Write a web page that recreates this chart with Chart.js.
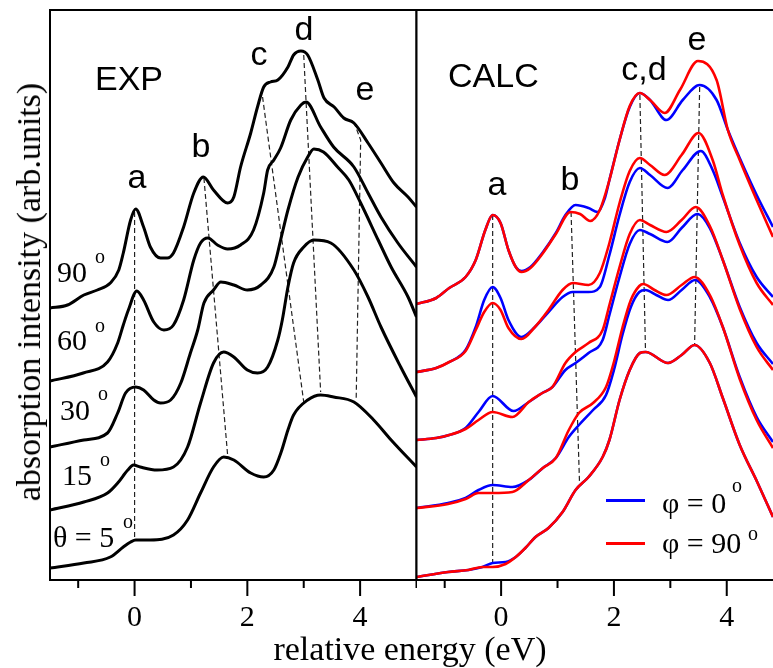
<!DOCTYPE html>
<html>
<head>
<meta charset="utf-8">
<script src="https://cdn.jsdelivr.net/npm/chart.js@4.4.0/dist/chart.umd.min.js"></script>
<style>
  body { margin: 0; background: #fff; }
  #wrap { position: relative; width: 773px; height: 668px; overflow: hidden; }
  canvas { position: absolute; top: 0; }
  .t { position: absolute; white-space: nowrap; line-height: 1; color: #000; }
  .sans { font-family: "Liberation Sans", Arial, sans-serif; font-size: 34px; }
  .serif { font-family: "Liberation Serif", "Times New Roman", serif; font-size: 30px; }
  .sup { font-family: "Liberation Serif", "Times New Roman", serif; font-size: 20px; }
  .title { font-family: "Liberation Serif", "Times New Roman", serif; font-size: 34px; }
  .ctr { transform: translateX(-50%); }
  .key { position: absolute; height: 3px; width: 39px; }
</style>
</head>
<body>
<div id="wrap">
  <canvas id="expChart" width="417" height="668" style="left:0"></canvas>
  <canvas id="calcChart" width="363" height="668" style="left:410px"></canvas>

  <div class="t title" style="left:29px; top:292px; transform:translate(-50%,-50%) rotate(-90deg);">absorption intensity (arb.units)</div>
  <div class="t title ctr" style="left:410px; top:632px;">relative energy (eV)</div>

  <div class="t sans" style="left:95px; top:61px;">EXP</div>
  <div class="t sans ctr" style="left:137px; top:159px;">a</div>
  <div class="t sans ctr" style="left:201px; top:128px;">b</div>
  <div class="t sans ctr" style="left:259px; top:36px;">c</div>
  <div class="t sans ctr" style="left:304px; top:11px;">d</div>
  <div class="t sans ctr" style="left:365px; top:71px;">e</div>

  <div class="t serif" style="left:57px; top:257px;">90</div><div class="t sup" style="left:95px; top:246px;">o</div>
  <div class="t serif" style="left:57px; top:325px;">60</div><div class="t sup" style="left:95px; top:315px;">o</div>
  <div class="t serif" style="left:60px; top:395px;">30</div><div class="t sup" style="left:98px; top:383px;">o</div>
  <div class="t serif" style="left:62px; top:460px;">15</div><div class="t sup" style="left:100px; top:449px;">o</div>
  <div class="t serif" style="left:53px; top:522px;">θ = 5</div><div class="t sup" style="left:123px; top:511px;">o</div>

  <div class="t sans" style="left:448px; top:58px;">CALC</div>
  <div class="t sans ctr" style="left:497px; top:166px;">a</div>
  <div class="t sans ctr" style="left:570px; top:161px;">b</div>
  <div class="t sans ctr" style="left:644px; top:51px;">c,d</div>
  <div class="t sans ctr" style="left:697px; top:21px;">e</div>

  <div class="key" style="left:606px; top:499px; background:#0000ff;"></div>
  <div class="t serif" style="left:662px; top:488px;">φ = 0</div><div class="t sup" style="left:732px; top:475px;">o</div>
  <div class="key" style="left:606px; top:542px; background:#ff0000;"></div>
  <div class="t serif" style="left:662px; top:528px;">φ = 90</div><div class="t sup" style="left:748px; top:523px;">o</div>
</div>

<script>
// x ticks (eV)
const TICKS_EXP = [-1, 0, 1, 2, 3, 4, 5];
const TICKS_CALC = [-1, 0, 1, 2, 3, 4];
const TICK_LABELS = [0, 2, 4];

// measured spectra, [energy eV, intensity arb.units incl. vertical offset]
const EXP_90 = [[-1.5,5.44],[-1.19,5.50],[-0.9,5.70],[-0.66,5.80],[-0.43,5.94],[-0.28,6.20],[-0.2,6.54],[-0.07,7.20],[0.02,7.42],[0.16,7.06],[0.28,6.66],[0.46,6.44],[0.58,6.44],[0.69,6.54],[0.87,7.06],[1.05,7.74],[1.22,8.06],[1.4,7.80],[1.65,7.54],[1.76,7.66],[1.88,8.26],[2.06,8.94],[2.18,9.46],[2.29,9.86],[2.41,9.96],[2.54,10.00],[2.72,10.26],[2.82,10.50],[2.95,10.58],[3.07,10.50],[3.25,10.00],[3.36,9.64],[3.54,9.46],[3.71,9.24],[3.89,9.14],[4.14,8.74],[4.37,8.34],[4.6,7.94],[4.85,7.66],[5.0,7.46]];
const EXP_60 = [[-1.5,3.98],[-0.91,4.14],[-0.48,4.36],[-0.3,4.74],[-0.2,5.10],[-0.11,5.40],[0.04,5.78],[0.16,5.60],[0.34,5.16],[0.52,5.00],[0.69,5.10],[0.87,5.60],[1.05,6.40],[1.17,6.74],[1.30,6.84],[1.47,6.70],[1.65,6.62],[1.88,6.70],[2.11,7.00],[2.29,7.74],[2.36,8.20],[2.47,8.40],[2.59,8.64],[2.77,9.20],[2.95,9.50],[3.04,9.56],[3.30,9.06],[3.53,8.66],[3.89,8.26],[4.14,7.74],[4.37,7.26],[4.67,6.74],[5.0,6.26]];
const EXP_30 = [[-1.5,2.66],[-0.9,2.80],[-0.48,2.94],[-0.3,3.34],[-0.16,3.74],[0.02,3.86],[0.16,3.80],[0.34,3.60],[0.46,3.54],[0.64,3.60],[0.82,3.94],[0.99,4.54],[1.12,5.00],[1.23,5.54],[1.4,5.80],[1.53,5.96],[1.76,5.90],[2.0,5.80],[2.24,5.90],[2.47,6.26],[2.59,6.80],[2.72,7.40],[2.9,8.06],[3.07,8.46],[3.18,8.62],[3.35,8.56],[3.6,8.26],[3.8,8.00],[4.01,7.54],[4.32,6.80],[4.55,6.26],[4.85,5.66],[5.0,5.26]];
const EXP_15 = [[-1.5,1.40],[-0.9,1.56],[-0.48,1.74],[-0.3,1.94],[-0.12,2.20],[-0.02,2.30],[0.1,2.26],[0.4,2.20],[0.69,2.26],[0.94,2.66],[1.17,3.54],[1.4,4.34],[1.58,4.56],[1.76,4.46],[2.0,4.20],[2.18,4.14],[2.36,4.26],[2.54,4.80],[2.62,5.20],[2.72,5.86],[2.82,6.34],[3.0,6.66],[3.18,6.80],[3.48,6.74],[3.89,6.20],[4.14,5.66],[4.37,5.06],[4.72,4.26],[5.0,3.66]];
const EXP_5 = [[-1.5,0.24],[-0.9,0.34],[-0.43,0.46],[-0.2,0.66],[-0.07,0.76],[0.02,0.80],[0.28,0.80],[0.69,0.90],[0.94,1.20],[1.17,1.74],[1.4,2.26],[1.58,2.46],[1.76,2.40],[2.06,2.14],[2.29,2.06],[2.47,2.20],[2.6,2.56],[2.72,3.00],[2.82,3.30],[3.07,3.60],[3.3,3.70],[3.53,3.66],[3.89,3.56],[4.24,3.20],[4.55,2.80],[5.0,2.26]];

// calculated spectra, blue = phi 0, red = phi 90
const CALC_B90 = [[-1.5,5.52],[-1.15,5.64],[-0.92,5.84],[-0.63,6.06],[-0.45,6.40],[-0.28,7.00],[-0.15,7.30],[-0.01,7.14],[0.13,6.60],[0.26,6.26],[0.36,6.18],[0.52,6.26],[0.73,6.54],[0.97,6.94],[1.14,7.30],[1.32,7.50],[1.55,7.44],[1.71,7.36],[1.84,7.64],[1.92,8.00],[2.10,8.80],[2.28,9.46],[2.46,9.74],[2.64,9.60],[2.93,9.20],[3.22,9.60],[3.52,9.90],[3.82,9.60],[4.02,9.00],[4.23,8.44],[4.53,7.70],[4.82,7.06]];
const CALC_R90 = [[-1.5,5.52],[-1.15,5.64],[-0.92,5.84],[-0.63,6.06],[-0.45,6.40],[-0.28,7.00],[-0.15,7.30],[-0.01,7.14],[0.13,6.60],[0.26,6.26],[0.36,6.16],[0.52,6.24],[0.73,6.52],[0.97,6.92],[1.23,7.36],[1.40,7.32],[1.58,7.18],[1.75,7.40],[1.92,8.00],[2.10,8.80],[2.28,9.48],[2.46,9.74],[2.64,9.60],[2.90,9.34],[3.17,9.80],[3.49,10.38],[3.82,10.00],[4.02,9.00],[4.23,8.40],[4.53,7.60],[4.82,6.86]];
const CALC_B60 = [[-1.5,4.16],[-1.15,4.24],[-0.92,4.36],[-0.63,4.60],[-0.45,5.06],[-0.3,5.60],[-0.15,5.86],[-0.01,5.64],[0.13,5.20],[0.36,4.86],[0.6,5.06],[0.84,5.36],[1.09,5.66],[1.27,5.76],[1.55,5.76],[1.75,5.86],[1.92,6.50],[2.10,7.30],[2.28,7.96],[2.46,8.24],[2.64,8.10],[2.95,7.84],[3.22,8.20],[3.54,8.58],[3.75,8.20],[3.93,7.66],[4.23,6.74],[4.53,6.06],[4.82,5.66]];
const CALC_R60 = [[-1.5,4.16],[-1.15,4.24],[-0.92,4.36],[-0.63,4.58],[-0.45,5.00],[-0.3,5.36],[-0.15,5.54],[-0.01,5.40],[0.13,5.04],[0.36,4.82],[0.6,5.06],[0.84,5.40],[1.09,5.80],[1.27,5.94],[1.55,5.90],[1.75,6.14],[1.92,6.74],[2.10,7.54],[2.28,8.18],[2.46,8.44],[2.64,8.30],[2.90,8.10],[3.20,8.50],[3.50,8.94],[3.75,8.40],[3.93,7.70],[4.23,6.70],[4.53,5.94],[4.82,5.50]];
const CALC_B30 = [[-1.5,2.80],[-1.15,2.84],[-0.92,2.90],[-0.63,3.04],[-0.4,3.36],[-0.15,3.68],[0.22,3.38],[0.49,3.56],[0.73,3.74],[0.91,3.86],[1.14,4.20],[1.32,4.34],[1.55,4.54],[1.80,4.80],[1.92,5.30],[2.10,6.06],[2.28,6.72],[2.46,7.00],[2.64,6.92],[2.95,6.76],[3.20,7.04],[3.48,7.32],[3.70,7.04],[3.93,6.40],[4.23,5.46],[4.53,4.74],[4.82,4.32]];
const CALC_R30 = [[-1.5,2.80],[-1.15,2.84],[-0.92,2.90],[-0.63,3.02],[-0.4,3.20],[-0.15,3.36],[0.2,3.26],[0.49,3.56],[0.73,3.74],[0.91,3.86],[1.14,4.34],[1.32,4.56],[1.55,4.74],[1.80,5.00],[1.92,5.50],[2.10,6.26],[2.28,6.92],[2.46,7.20],[2.64,7.10],[2.93,6.96],[3.20,7.20],[3.45,7.46],[3.70,7.08],[3.93,6.40],[4.23,5.42],[4.53,4.66],[4.82,4.20]];
const CALC_B15 = [[-1.5,1.44],[-0.94,1.54],[-0.63,1.64],[-0.4,1.80],[-0.15,1.90],[0.2,1.86],[0.49,2.00],[0.74,2.24],[0.97,2.44],[1.2,2.86],[1.38,3.10],[1.63,3.40],[1.86,3.70],[2.0,4.20],[2.15,4.90],[2.3,5.46],[2.45,5.76],[2.56,5.80],[2.75,5.70],[2.96,5.60],[3.2,5.80],[3.44,6.00],[3.70,5.66],[3.93,5.06],[4.23,4.06],[4.53,3.26],[4.82,2.76]];
const CALC_R15 = [[-1.5,1.44],[-0.94,1.52],[-0.63,1.62],[-0.4,1.74],[-0.15,1.74],[0.2,1.76],[0.49,2.00],[0.74,2.24],[0.97,2.44],[1.2,3.00],[1.38,3.34],[1.63,3.54],[1.86,3.86],[2.0,4.36],[2.15,5.04],[2.3,5.60],[2.45,5.88],[2.52,5.92],[2.72,5.80],[2.93,5.70],[3.2,5.90],[3.43,6.06],[3.70,5.70],[3.93,5.06],[4.23,4.02],[4.53,3.20],[4.82,2.64]];
const CALC_B5 = [[-1.5,0.06],[-0.94,0.16],[-0.58,0.20],[-0.33,0.26],[-0.15,0.34],[0.08,0.36],[0.26,0.46],[0.43,0.64],[0.61,0.86],[0.84,1.04],[1.09,1.36],[1.32,1.80],[1.55,2.06],[1.80,2.46],[1.92,2.80],[2.10,3.60],[2.28,4.20],[2.46,4.54],[2.56,4.56],[2.96,4.34],[3.20,4.50],[3.43,4.70],[3.70,4.34],[3.93,3.64],[4.23,2.70],[4.54,1.96],[4.82,1.26]];
const CALC_R5 = [[-1.5,0.06],[-0.94,0.16],[-0.58,0.20],[-0.33,0.26],[-0.15,0.26],[0.08,0.32],[0.26,0.46],[0.43,0.64],[0.61,0.86],[0.84,1.04],[1.09,1.36],[1.32,1.80],[1.55,2.06],[1.80,2.46],[1.92,2.80],[2.10,3.60],[2.28,4.20],[2.46,4.54],[2.56,4.56],[2.96,4.34],[3.20,4.50],[3.43,4.70],[3.70,4.34],[3.93,3.64],[4.23,2.70],[4.54,1.96],[4.82,1.26]];

// dashed peak guides
const GUIDES_EXP = [
    [[0, 7.36], [0, 0.80]],
    [[1.23, 8.04], [1.65, 2.50]],
    [[2.27, 9.66], [3.0, 3.56]],
    [[3.0, 10.5], [3.30, 3.76]],
    [[3.89, 9.16], [4.01, 8.8], [3.93, 3.6]]
];
const GUIDES_CALC = [
    [[-0.15, 7.30], [-0.15, 0.30]],
    [[1.24, 7.36], [1.39, 1.94]],
    [[2.46, 9.70], [2.56, 4.56]],
    [[3.52, 9.86], [3.43, 4.70]]
];

const Y_MAX = 11.4;
const SERIF = '"Liberation Serif", "Times New Roman", serif';

function pts(arr) {
    return arr.map(p => ({ x: p[0], y: p[1] }));
}

function curve(arr, color, width, order) {
    return {
        data: pts(arr), borderColor: color, borderWidth: width, order: order,
        pointRadius: 0, fill: false, cubicInterpolationMode: 'monotone'
    };
}

function guide(arr) {
    return {
        data: pts(arr), borderColor: '#222', borderWidth: 1.2, borderDash: [5, 3],
        pointRadius: 0, fill: false, tension: 0, order: 5
    };
}

// frame + tick marks drawn from the x scale
const framePlugin = {
    id: 'frame',
    afterDraw(chart, args, opts) {
        const { ctx, chartArea: a } = chart;
        const xs = chart.scales.x;
        ctx.save();
        ctx.strokeStyle = '#000';
        ctx.lineWidth = 2;
        ctx.lineCap = 'square';
        ctx.beginPath();
        ctx.moveTo(a.left, a.top); ctx.lineTo(a.right, a.top);
        ctx.moveTo(a.left, a.bottom); ctx.lineTo(a.right, a.bottom);
        ctx.moveTo(a.left, a.top); ctx.lineTo(a.left, a.bottom);
        if (opts.right) { ctx.moveTo(a.right, a.top); ctx.lineTo(a.right, a.bottom); }
        ctx.stroke();
        ctx.lineCap = 'butt';
        ctx.beginPath();
        xs.ticks.forEach(t => {
            const px = xs.getPixelForValue(t.value);
            const len = TICK_LABELS.includes(t.value) ? 16 : 8;
            ctx.moveTo(px, a.bottom);
            ctx.lineTo(px, a.bottom + len);
        });
        ctx.stroke();
        ctx.restore();
    }
};

function makeChart(id, datasets, xMin, xMax, ticks, padding, rightEdge) {
    return new Chart(document.getElementById(id), {
        type: 'line',
        data: { datasets: datasets },
        options: {
            responsive: false,
            animation: false,
            devicePixelRatio: 1,
            layout: { padding: padding },
            plugins: { legend: { display: false }, tooltip: { enabled: false }, frame: { right: rightEdge } },
            scales: {
                x: {
                    type: 'linear', min: xMin, max: xMax,
                    // grid hidden; tickLength only pushes the labels down
                    grid: { display: false, drawTicks: true, tickLength: 20 },
                    border: { display: false },
                    afterBuildTicks: s => { s.ticks = ticks.map(v => ({ value: v })); },
                    afterFit: s => { s.height = 88; },
                    ticks: {
                        autoSkip: false, maxRotation: 0, padding: 0, color: '#000',
                        font: { family: SERIF, size: 30 },
                        callback: v => TICK_LABELS.includes(v) ? String(v) : ''
                    }
                },
                y: { display: false, min: 0, max: Y_MAX }
            }
        },
        plugins: [framePlugin]
    });
}

const expSets = [EXP_90, EXP_60, EXP_30, EXP_15, EXP_5].map(c => curve(c, '#000', 3, 1))
    .concat(GUIDES_EXP.map(guide));
makeChart('expChart', expSets, -1.5, 5, TICKS_EXP, { left: 50, top: 10, right: 0.5, bottom: 0 }, true);

const blue = [CALC_B90, CALC_B60, CALC_B30, CALC_B15, CALC_B5].map(c => curve(c, '#0000ff', 2.6, 2));
const red = [CALC_R90, CALC_R60, CALC_R30, CALC_R15, CALC_R5].map(c => curve(c, '#ff0000', 2.6, 1));
makeChart('calcChart', red.concat(blue, GUIDES_CALC.map(guide)), -1.5, 4.82, TICKS_CALC,
    { left: 6.5, top: 10, right: 0, bottom: 0 }, false);
</script>
</body>
</html>
